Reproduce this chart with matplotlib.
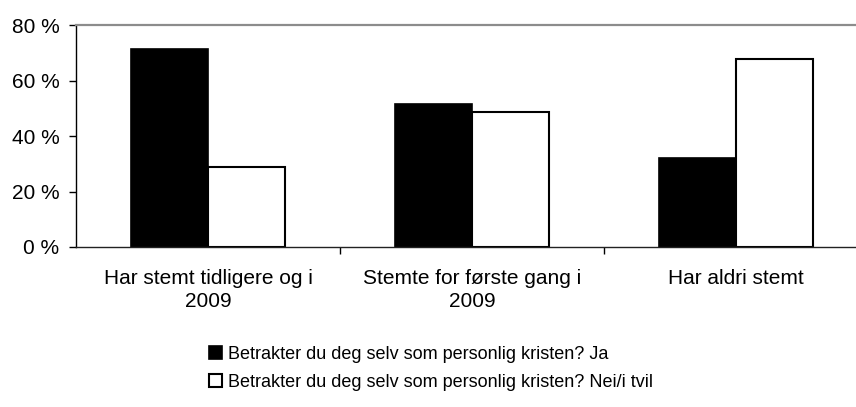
import numpy as np
import matplotlib
matplotlib.use("Agg")
import matplotlib.pyplot as plt

plt.rcParams['font.family'] = ['Liberation Sans', 'DejaVu Sans']

# Data
categories = ["Har stemt tidligere og i\n2009", "Stemte for første gang i\n2009", "Har aldri stemt"]
ja = [71.3, 51.5, 32.2]
nei = [28.7, 48.5, 67.8]
series_names = ["Betrakter du deg selv som personlig kristen? Ja",
                "Betrakter du deg selv som personlig kristen? Nei/i tvil"]
yticks = [0, 20, 40, 60, 80]
ytick_labels = ["0 %", "20 %", "40 %", "60 %", "80 %"]

fig = plt.figure(figsize=(8.56, 4.07), dpi=100)
W, H = 856, 407
ax = fig.add_axes([76 / W, (H - 247) / H, (868 - 76) / W, (247 - 25) / H])

x = np.arange(len(categories))
w = 0.292
ax.bar(x - w / 2, ja, w, color="black", edgecolor="black", linewidth=1.2, label=series_names[0])
ax.bar(x + w / 2, nei, w, color="white", edgecolor="black", linewidth=1.5, label=series_names[1])

ax.set_xlim(-0.5, 2.5)
ax.set_ylim(0, 80)
ax.set_yticks(yticks)
ax.set_yticklabels(ytick_labels, fontsize=15)
ax.tick_params(axis="y", length=5, width=1, pad=7)

# category labels centred, ticks on the category boundaries
ax.set_xticks([0.5, 1.5])
ax.set_xticklabels([])
ax.set_xticks(x, minor=True)
ax.set_xticklabels(categories, minor=True, fontsize=15, linespacing=1.28)
ax.tick_params(axis="x", which="major", length=5, width=1)
ax.tick_params(axis="x", which="minor", length=0, pad=15.5)

ax.spines["top"].set_color("#8c8c8c")
ax.spines["top"].set_linewidth(1.6)
ax.spines["left"].set_linewidth(1.0)
ax.spines["bottom"].set_linewidth(1.0)
ax.spines["bottom"].set_color("#222222")
ax.spines["right"].set_visible(False)

fig.legend(loc="upper center", bbox_to_anchor=(0.503, 0.1725), frameon=False,
           fontsize=13, handlelength=0.75, handleheight=0.75, handletextpad=0.3,
           labelspacing=0.6, borderpad=0)

fig.savefig("out.png", dpi=100)
